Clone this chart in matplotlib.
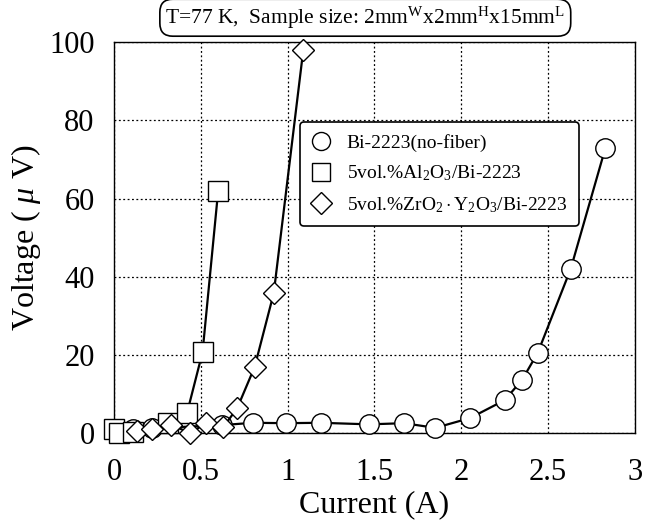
import matplotlib
matplotlib.use("Agg")
import matplotlib.pyplot as plt
from matplotlib.lines import Line2D

plt.rcParams['font.family'] = ['Liberation Serif', 'DejaVu Serif']
plt.rcParams['mathtext.fontset'] = 'custom'
plt.rcParams['mathtext.rm'] = 'Liberation Serif'
plt.rcParams['mathtext.it'] = 'Liberation Serif:italic'

# Bi-2223 (no fiber)
i_plain = [0.11, 0.22, 0.62, 0.80, 0.99, 1.19, 1.47, 1.67, 1.85, 2.05, 2.25, 2.35, 2.44, 2.63, 2.83]
v_plain = [1.0, 1.2, 2.0, 2.6, 2.5, 2.6, 2.2, 2.5, 1.3, 3.8, 8.4, 13.6, 20.5, 42.0, 73.0]

# 5vol.% Al2O3 / Bi-2223
i_al = [0.0, 0.03, 0.11, 0.31, 0.42, 0.51, 0.60]
v_al = [1.0, 0.0, 0.2, 2.6, 5.0, 20.7, 62.0]

# 5vol.% ZrO2-Y2O3 / Bi-2223
i_zr = [0.13, 0.22, 0.33, 0.44, 0.53, 0.63, 0.71, 0.81, 0.92, 1.09]
v_zr = [0.5, 1.0, 2.0, 0.0, 2.5, 1.5, 6.4, 16.9, 35.8, 98.0]

labels = ["Bi-2223(no-fiber)",
          r"5vol.%Al$_2$O$_3$/Bi-2223",
          r"5vol.%ZrO$_2\cdot$Y$_2$O$_3$/Bi-2223"]

fig = plt.figure(figsize=(6.57, 5.21), dpi=100)
ax = fig.add_axes([0.1735, 0.169, 0.793, 0.750])

style = dict(color='black', lw=1.6, mfc='white', mec='black', mew=1.0, clip_on=False)
ax.plot(i_plain, v_plain, marker='o', ms=14, zorder=3, **style)
ax.plot(i_al, v_al, marker='s', ms=14, zorder=4, **style)
ax.plot(i_zr, v_zr, marker='D', ms=11, zorder=5, **style)

ax.set_xlim(0, 3)
ax.set_ylim(0, 100)
ax.set_xticks([0, 0.5, 1, 1.5, 2, 2.5, 3])
ax.set_xticklabels(['0', '0.5', '1', '1.5', '2', '2.5', '3'])
ax.set_yticks([0, 20, 40, 60, 80, 100])
ax.tick_params(labelsize=22, length=0)
ax.tick_params(axis='x', pad=18)
ax.tick_params(axis='y', pad=14)
ax.grid(True, color='black', linestyle=(0, (1.5, 2)), linewidth=0.9)
for s in ax.spines.values():
    s.set_linewidth(1.0)

ax.set_xlabel("Current (A)", fontsize=23, labelpad=2)
ax.set_ylabel(r"Voltage ( $\mu$ V)", fontsize=23, labelpad=4)

handles = [Line2D([], [], ls='none', marker=m, ms=ms, mfc='white', mec='black', mew=1.0)
           for m, ms in [('o', 13), ('s', 13), ('D', 11)]]
leg = ax.legend(handles, labels, loc='upper left', bbox_to_anchor=(0.357, 0.795),
                borderaxespad=0, fontsize=14, frameon=True, fancybox=True, framealpha=1,
                edgecolor='black', handlelength=1.0, handletextpad=0.8,
                borderpad=0.6, labelspacing=0.6)
leg.get_frame().set_linewidth(1.2)
leg.set_zorder(10)

fig.text(0.556, 0.966, r"T=77 K,  Sample size: 2mm$^{\rm W}$x2mm$^{\rm H}$x15mm$^{\rm L}$",
         ha='center', va='center', fontsize=15.5,
         bbox=dict(boxstyle='round,pad=0.25,rounding_size=0.6', facecolor='white',
                   edgecolor='black', linewidth=1.2))

fig.savefig("out.png", dpi=100)
